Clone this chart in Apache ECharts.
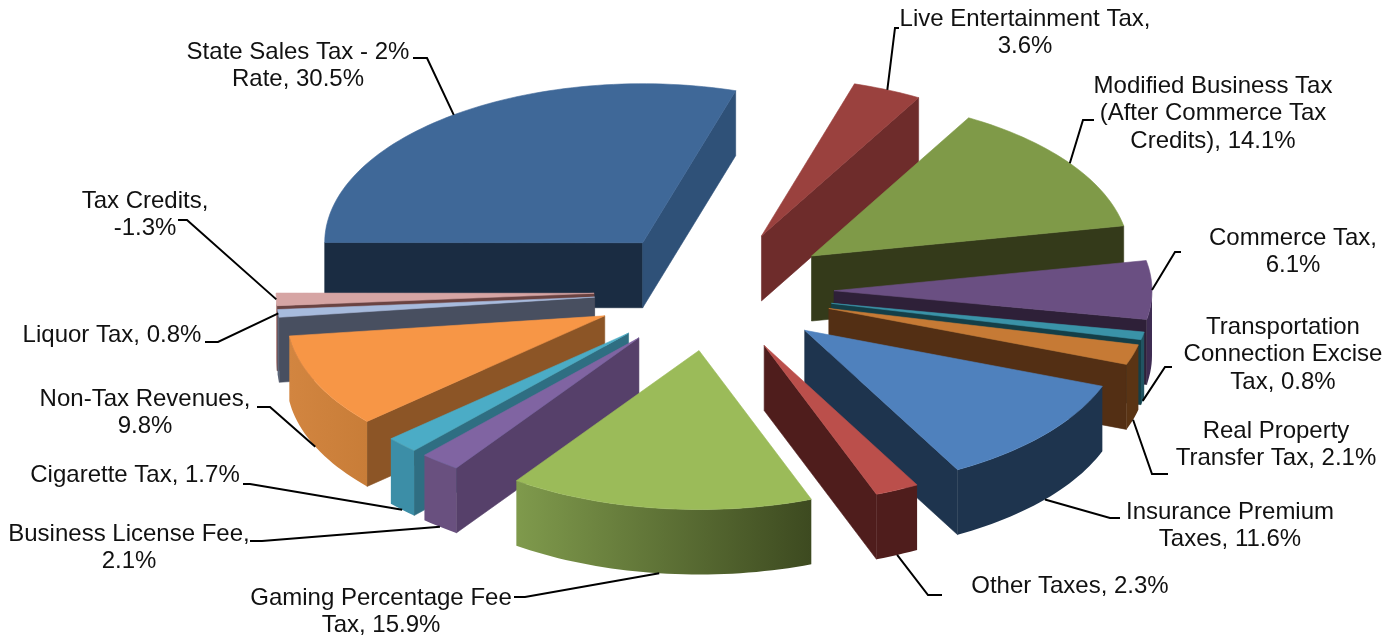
<!DOCTYPE html>
<html>
<head>
<meta charset="utf-8">
<style>html,body{margin:0;padding:0;background:#fff}#c{width:1400px;height:637px}</style>
<script src="https://cdn.jsdelivr.net/npm/echarts@6/dist/echarts.min.js"></script>
</head>
<body>
<div id="c"></div>
<script>
// ---------- data ----------
const categories = ['Live Entertainment Tax','Modified Business Tax (After Commerce Tax Credits)','Commerce Tax','Transportation Connection Excise Tax','Real Property Transfer Tax','Insurance Premium Taxes','Other Taxes','Gaming Percentage Fee Tax','Business License Fee','Cigarette Tax','Non-Tax Revenues','Liquor Tax','Tax Credits','State Sales Tax - 2% Rate'];
const shares = [3.6,14.1,6.1,0.8,2.1,11.6,2.3,15.9,2.1,1.7,9.8,0.8,-1.3,30.5];
const labelLines = [
  ['Live Entertainment Tax,','3.6%'],
  ['Modified Business Tax','(After Commerce Tax','Credits), 14.1%'],
  ['Commerce Tax,','6.1%'],
  ['Transportation','Connection Excise','Tax, 0.8%'],
  ['Real Property','Transfer Tax, 2.1%'],
  ['Insurance Premium','Taxes, 11.6%'],
  ['Other Taxes, 2.3%'],
  ['Gaming Percentage Fee','Tax, 15.9%'],
  ['Business License Fee,','2.1%'],
  ['Cigarette Tax, 1.7%'],
  ['Non-Tax Revenues,','9.8%'],
  ['Liquor Tax, 0.8%'],
  ['Tax Credits,','-1.3%'],
  ['State Sales Tax - 2%','Rate, 30.5%']
];
// ---------- styles ----------
const topColors  = ['#9a413e','#7f9a48','#6a4f82','#3a93a8','#c67a35','#4f81bd','#bb4f4b','#9bbb59','#8064a2','#4bacc6','#f79646','#a7bbdd','#d6a5a4','#3f6898'];
const startWall  = ['#6e2c2b','#343a1a','#2e2038','#143f48','#532f14','#1e344e','#4f1d1c','#3d4a20','#56406a','#2f6e82','#8c5526','#484f60','#6a4342','#1a2c42'];
const endWall    = ['#6e2c2b','#343a1a','#2e2038','#143f48','#532f14','#1e344e','#4f1d1c','#3d4a20','#56406a','#2f6e82','#8c5526','#484f60','#6a4342','#2f5178'];
const rimLeft    = ['#6e2c2b','#343a1a','#3e2c52','#215462','#5a3414','#1e344e','#4f1d1c','#7f9a4c','#69507f','#3c8ea7','#d28540','#5a6478','#b68a88','#1a2c42'];
const rimRight   = ['#6e2c2b','#343a1a','#3e2c52','#215462','#5a3414','#1e344e','#4f1d1c','#3d4a20','#69507f','#3c8ea7','#c87d38','#5a6478','#b68a88','#1a2c42'];
// ---------- layout ----------
const cx = 714, cy = 291, radius = 318, explode = 120, tilt = 0.5, depth = 65, startAngle = 17;
const labelCenters = [[1025,19],[1213,86],[1293,238],[1283,327],[1276,431],[1230,512],[1070,586],[381,598],[129,534],[135,475],[145,399],[112,335],[145,201],[298,52]];
const lineGap = 27.5;
const leaderTail = [
  [[895,28],[899,28]],[[1083,120],[1094,120]],[[1175,252],[1181,252]],[[1165,367],[1172,367]],
  [[1152,474],[1168,474]],[[1110,518],[1120,518]],[[928,595],[942,595]],[[525,597],[514,597]],
  [[262,541],[250,541]],[[250,484],[243,484]],[[270,407],[257,407]],[[218,342],[205,342]],
  [[187,220],[178,220]],[[427,58],[413,58]]
];

const rad = d => d * Math.PI / 180;
const total = shares.reduce((s, v) => s + Math.abs(v), 0);
const slices = [];
let acc = startAngle;
shares.forEach((v, i) => {
  const a0 = acc, a1 = acc + Math.abs(v) / total * 360;
  acc = a1;
  const mid = (a0 + a1) / 2;
  slices.push({ i, a0, a1, mid,
    ax: cx + explode * Math.sin(rad(mid)),
    ay: cy - explode * tilt * Math.cos(rad(mid)) });
});
const rim = (s, a) => [s.ax + radius * Math.sin(rad(a)), s.ay - radius * tilt * Math.cos(rad(a))];
const arc = (s, from, to) => {
  const n = Math.max(2, Math.ceil(Math.abs(to - from) / 1.5)), p = [];
  for (let k = 0; k <= n; k++) p.push(rim(s, from + (to - from) * k / n));
  return p;
};
const down = p => [p[0], p[1] + depth];
const poly = (points, fill) => ({ type: 'polygon', shape: { points }, silent: true,
  style: { fill, stroke: fill, lineWidth: 0.6 } });

// painter's order: back to front
const paintOrder = slices.slice().sort((a, b) => Math.cos(rad(b.mid)) - Math.cos(rad(a.mid))).map(s => s.i);

function renderSlice(params, api) {
  const s = slices[api.value(0)], kids = [], apex = [s.ax, s.ay], i = s.i;
  if (Math.sin(rad(s.a0)) < 0) {
    const r = rim(s, s.a0);
    kids.push(poly([apex, r, down(r), down(apex)], startWall[i]));
  }
  if (Math.sin(rad(s.a1)) > 0) {
    const r = rim(s, s.a1);
    kids.push(poly([apex, r, down(r), down(apex)], endWall[i]));
  }
  const from = Math.max(s.a0, 90), to = Math.min(s.a1, 270);
  if (to > from) {
    const top = arc(s, from, to);
    kids.push({ type: 'polygon', shape: { points: top.concat(top.map(down).reverse()) }, silent: true,
      style: { stroke: null, fill: new echarts.graphic.LinearGradient(0, 0, 1, 0, [
        { offset: 0, color: rimLeft[i] }, { offset: 1, color: rimRight[i] }]) } });
  }
  kids.push(poly([apex].concat(arc(s, s.a0, s.a1)), topColors[i]));
  return { type: 'group', children: kids };
}

function renderLabel(params, api) {
  const i = api.value(0), s = slices[i], kids = [];
  let a = rim(s, s.mid);
  if (Math.cos(rad(s.mid)) < -0.15) a = down(a);
  kids.push({ type: 'polyline', shape: { points: [a].concat(leaderTail[i]) }, silent: true,
    style: { fill: null, stroke: '#000', lineWidth: 2 } });
  labelLines[i].forEach((t, k) => {
    kids.push({ type: 'text', silent: true, x: labelCenters[i][0], y: labelCenters[i][1] + k * lineGap,
      style: { text: t, fill: '#111', align: 'center', verticalAlign: 'middle',
        font: '24px "Liberation Sans", Arial, sans-serif' } });
  });
  return { type: 'group', children: kids };
}

const chart = echarts.init(document.getElementById('c'));
chart.setOption({
  animation: false,
  backgroundColor: '#fff',
  series: [
    { type: 'custom', coordinateSystem: 'none', renderItem: renderSlice, z: 2,
      data: paintOrder.map(i => ({ name: categories[i], value: [i, shares[i]] })) },
    { type: 'custom', coordinateSystem: 'none', renderItem: renderLabel, z: 3,
      data: shares.map((v, i) => ({ name: categories[i], value: [i, v] })) }
  ]
});
</script>
</body>
</html>
